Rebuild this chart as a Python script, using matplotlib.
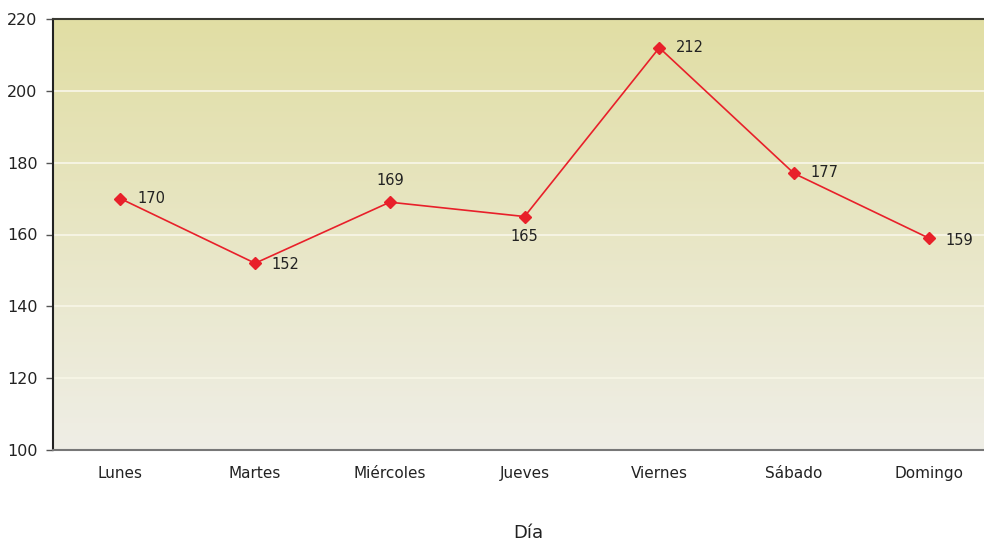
import matplotlib
matplotlib.use("Agg")
import matplotlib.pyplot as plt
import numpy as np
from matplotlib.colors import LinearSegmentedColormap

days = ["Lunes", "Martes", "Miércoles", "Jueves", "Viernes", "Sábado", "Domingo"]
values = [170, 152, 169, 165, 212, 177, 159]
yticks = [100, 120, 140, 160, 180, 200, 220]

label_offsets = [(12, -5, "left"), (12, -6, "left"), (0, 10, "center"), (0, -20, "center"),
                 (12, -5, "left"), (12, -5, "left"), (12, -7, "left")]

fig = plt.figure(figsize=(9.84, 5.43), dpi=100)
ax = fig.add_axes([53/984, 1 - 450/543, 1 - 53/984, 431/543])

x = np.arange(len(days))
ax.set_xlim(-0.5, 6.41)
ax.set_ylim(100, 220)

# background gradient
cmap = LinearSegmentedColormap.from_list("bg", ["#efeee6", "#e1dea4"])
grad = np.linspace(0, 1, 256).reshape(-1, 1)
ax.imshow(grad, cmap=cmap, aspect="auto", origin="lower",
          extent=[-0.5, 6.41, 100, 220], zorder=0)

for yv in yticks[1:-1]:
    ax.axhline(yv, color="#f7f5e6", lw=1.3, zorder=1)

ax.plot(x, values, color="#e8202a", lw=1.2, marker="D", markersize=6.5,
        markerfacecolor="#e8202a", markeredgecolor="#e8202a", zorder=3)

for xi, v, (dx, dy, ha) in zip(x, values, label_offsets):
    ax.annotate(str(v), (xi, v), xytext=(dx, dy), textcoords="offset points",
                ha=ha, va="bottom", fontsize=10.5, color="#222222")

ax.set_xticks(x)
ax.set_xticklabels(days, fontsize=11, color="#222222")
ax.set_yticks(yticks)
ax.set_yticklabels([str(t) for t in yticks], fontsize=11.5, color="#222222")
ax.tick_params(axis="y", length=5, width=1, color="#555555", pad=6)
for lbl in ax.get_xticklabels():
    lbl.set_verticalalignment("baseline")
ax.tick_params(axis="x", length=0, pad=20)

ax.spines["right"].set_visible(False)
ax.spines["top"].set_color("#3a3a32")
ax.spines["top"].set_linewidth(1.5)
ax.spines["left"].set_color("#222222")
ax.spines["left"].set_linewidth(1.5)
ax.spines["bottom"].set_color("#777777")
ax.spines["bottom"].set_linewidth(1.5)

fig.text(528/984, 1 - 533/543, "Día", ha="center", va="center", fontsize=13, color="#222222")

fig.savefig("out.png", dpi=100)
